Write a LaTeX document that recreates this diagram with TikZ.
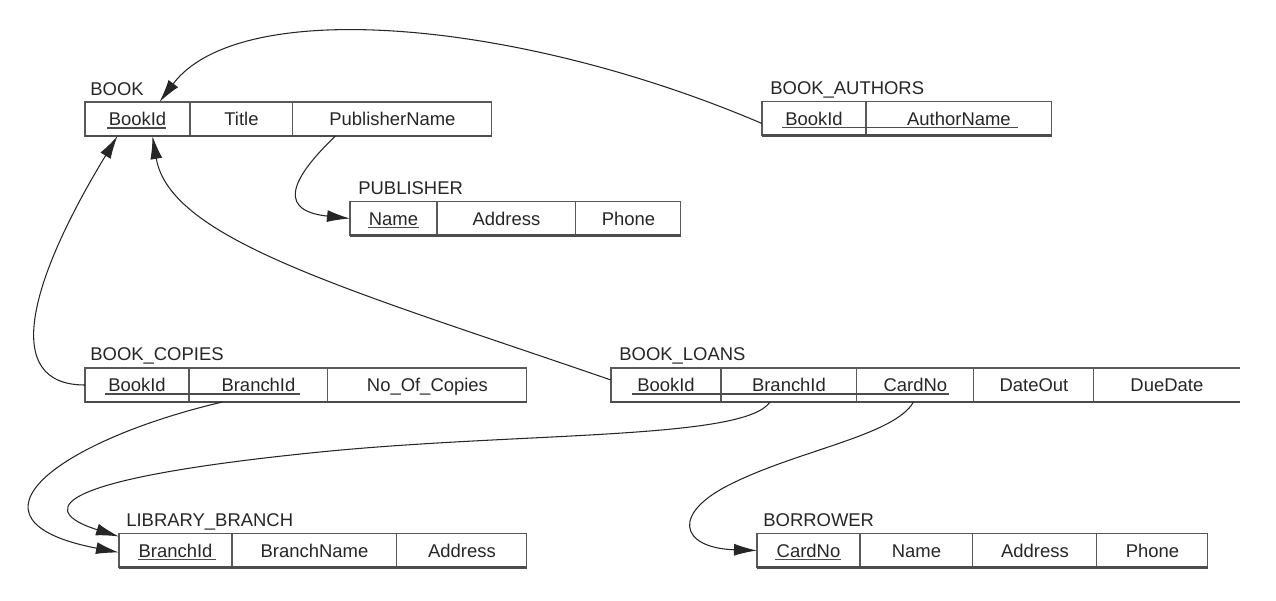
\documentclass[tikz,border=0pt]{standalone}
\usepackage{fontspec}
\setmainfont{Liberation Sans}
\usetikzlibrary{arrows.meta}
\usetikzlibrary{calc}
\usetikzlibrary{positioning}

\tikzset{
  attr/.style={draw=black!65, line width=0.6pt, outer sep=0pt, inner sep=0pt,
    minimum height=0.68cm, text height=9.5pt, text depth=2pt,
    font=\fontsize{10.5}{12}\selectfont, text=black!85},
  opencell/.style={attr, draw=none},
  tname/.style={anchor=base west, inner sep=0pt, font=\fontsize{10.5}{12}\selectfont, text=black!85},
  keyline/.style={black!70, line width=0.6pt},
  borderline/.style={black!65, line width=0.6pt},
  bottomline/.style={black!70, line width=1.3pt},
  fk/.style={black!85, line width=0.6pt, -{Latex[length=4.6mm,width=2.4mm]}}
}

\begin{document}
\begin{tikzpicture}[x=0.02cm, y=-0.02cm]
      \useasboundingbox (0,0) rectangle (1276,600);

      % BOOK
      \node[attr, minimum width=2.1cm, anchor=west] (bkBookId) at (85,119) {BookId};
      \node[attr, minimum width=2.06cm, right=0pt of bkBookId] (bkTitle) {Title};
      \node[attr, minimum width=3.98cm, right=0pt of bkTitle] (bkPubName) {PublisherName};
      \node[tname] (bkLabel) at ($(bkBookId.north west)+(5,-7)$) {BOOK};

      % BOOK_AUTHORS
      \node[attr, minimum width=2.08cm, anchor=west] (baBookId) at (762,118.5) {BookId};
      \node[attr, minimum width=3.72cm, right=0pt of baBookId] (baAuthor) {AuthorName};
      \node[tname] (baLabel) at ($(baBookId.north west)+(8,-7)$) {BOOK\_AUTHORS};

      % PUBLISHER
      \node[attr, minimum width=1.74cm, anchor=west] (pbName) at (350,218.5) {Name};
      \node[attr, minimum width=2.78cm, right=0pt of pbName] (pbAddress) {Address};
      \node[attr, minimum width=2.1cm, right=0pt of pbAddress] (pbPhone) {Phone};
      \node[tname] (pbLabel) at ($(pbName.north west)+(8,-7)$) {PUBLISHER};

      % BOOK_COPIES
      \node[attr, minimum width=2.08cm, anchor=west] (bcBookId) at (85,385) {BookId};
      \node[attr, minimum width=2.78cm, right=0pt of bcBookId] (bcBranchId) {BranchId};
      \node[attr, minimum width=3.98cm, right=0pt of bcBranchId] (bcCopies) {No\_Of\_Copies};
      \node[tname] (bcLabel) at ($(bcBookId.north west)+(5,-8)$) {BOOK\_COPIES};

      % BOOK_LOANS
      \node[attr, minimum width=2.2cm, anchor=west] (blBookId) at (611,385) {BookId};
      \node[attr, minimum width=2.72cm, right=0pt of blBookId] (blBranchId) {BranchId};
      \node[attr, minimum width=2.34cm, right=0pt of blBranchId] (blCardNo) {CardNo};
      \node[attr, minimum width=2.4cm, right=0pt of blCardNo] (blDateOut) {DateOut};
      \node[opencell, minimum width=2.92cm, right=0pt of blDateOut] (blDueDate) {DueDate};
      \draw[borderline] (blDueDate.north west) -- (blDueDate.north east);
      \node[tname] (blLabel) at ($(blBookId.north west)+(8,-8)$) {BOOK\_LOANS};

      % LIBRARY_BRANCH
      \node[attr, minimum width=2.26cm, anchor=west] (lbBranchId) at (119,550.5) {BranchId};
      \node[attr, minimum width=3.3cm, right=0pt of lbBranchId] (lbBranchName) {BranchName};
      \node[attr, minimum width=2.6cm, right=0pt of lbBranchName] (lbAddress) {Address};
      \node[tname] (lbLabel) at ($(lbBranchId.north west)+(7,-7)$) {LIBRARY\_BRANCH};

      % BORROWER
      \node[attr, minimum width=2.06cm, anchor=west] (brCardNo) at (757,550.5) {CardNo};
      \node[attr, minimum width=2.26cm, right=0pt of brCardNo] (brName) {Name};
      \node[attr, minimum width=2.48cm, right=0pt of brName] (brAddress) {Address};
      \node[attr, minimum width=2.22cm, right=0pt of brAddress] (brPhone) {Phone};
      \node[tname] (brLabel) at ($(brCardNo.north west)+(6,-7)$) {BORROWER};

      % Bottom edges
      \foreach \first/\last in {bkBookId/bkPubName, baBookId/baAuthor, pbName/pbPhone,
        bcBookId/bcCopies, blBookId/blDueDate, lbBranchId/lbAddress, brCardNo/brPhone}
      {
        \draw[bottomline] (\first.south west) -- (\last.south east);
      }

      % Keys
      \draw[keyline] ($(bkBookId.center)+(-30,9)$) -- ($(bkBookId.center)+(29,9)$);
      \draw[keyline] ($(baBookId.west)+(20,9)$) -- ($(baAuthor.east)+(-34,9)$);
      \draw[keyline] ($(pbName.center)+(-25,9)$) -- ($(pbName.center)+(26,9)$);
      \draw[keyline] ($(bcBookId.west)+(20,9)$) -- ($(bcBranchId.east)+(-28,9)$);
      \draw[keyline] ($(blBookId.west)+(21,9)$) -- ($(blCardNo.east)+(-25,9)$);
      \draw[keyline] ($(lbBranchId.center)+(-37,9)$) -- ($(lbBranchId.center)+(41,9)$);
      \draw[keyline] ($(brCardNo.center)+(-33,9)$) -- ($(brCardNo.center)+(33,9)$);

      % References
      \draw[fk] ($(baBookId.west)+(0,5)$) .. controls (520,20) and (240,-5) .. ($(bkBookId.north)+(22,0)$);
      \draw[fk] ($(bkPubName.south)+(-57,0)$) .. controls (300,170) and (270,210) .. (pbName.west);
      \draw[fk] (bcBookId.west) .. controls (0,385) and (30,280) .. ($(bkBookId.south)+(-20,0)$);
      \draw[fk] ($(blBookId.west)+(0,-5)$) .. controls (350,290) and (170,240) .. ($(bkBookId.south)+(15,0)$);
      \draw[fk] ($(bcBranchId.south)+(-36,0)$) .. controls (60,440) and (-50,520) .. ($(lbBranchId.west)+(0,2)$);
      \draw[fk] ($(blBranchId.south)+(-19,0)$) .. controls (745,440) and (520,432) .. (320,452)
        .. controls (20,482) and (50,515) .. ($(lbBranchId.north west)+(0,3)$);
      \draw[fk] ($(blCardNo.south)+(-2,0)$) .. controls (895,435) and (800,450) .. (733,483)
        .. controls (670,513) and (680,548) .. (brCardNo.west);
\end{tikzpicture}
\end{document}
